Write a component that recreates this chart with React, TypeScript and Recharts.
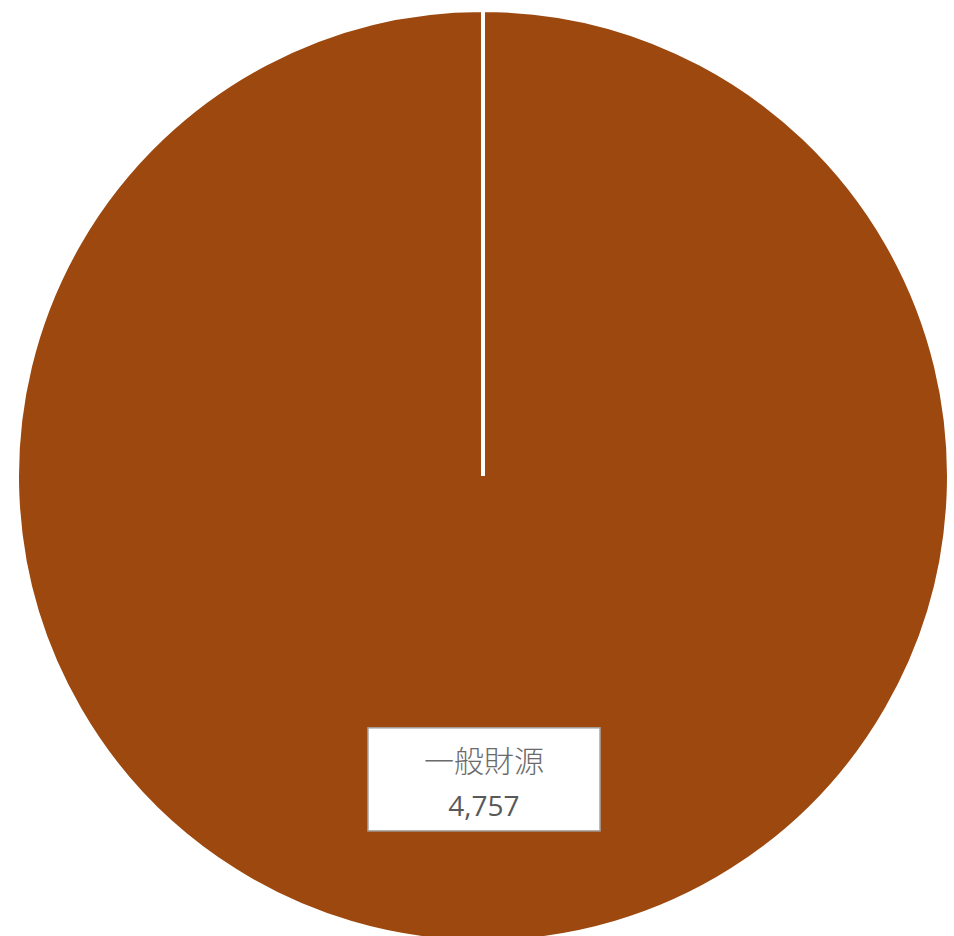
import React from "react";
import { PieChart, Pie, Cell } from "recharts";

const categories = ["一般財源"];
const values = [4757];
const colors = ["#9C480E"];

const data = categories.map((name, i) => ({ name, value: values[i] }));

const RAD = Math.PI / 180;

const renderLabel = (props: any) => {
  const { cx, cy, midAngle, outerRadius, name, value } = props;
  const r = outerRadius * 0.651;
  const x = cx + 1 + r * Math.cos(-midAngle * RAD);
  const y = cy + r * Math.sin(-midAngle * RAD);
  const w = 232;
  const h = 103;
  return (
    <g>
      <rect
        x={x - w / 2}
        y={y - h / 2}
        width={w}
        height={h}
        fill="#ffffff"
        stroke="#a6a6a6"
        strokeWidth={1.5}
      />
      <text
        x={x}
        y={y - 20}
        textAnchor="middle"
        dominantBaseline="central"
        fontFamily="'Noto Sans CJK JP', sans-serif"
        fontWeight={300}
        fontSize={30}
        fill="#6b6b6b"
      >
        {name}
      </text>
      <text
        x={x}
        y={y + 26}
        textAnchor="middle"
        dominantBaseline="central"
        fontFamily="'Open Sans', sans-serif"
        fontSize={28}
        fill="#595959"
      >
        {value.toLocaleString("en-US")}
      </text>
    </g>
  );
};

export default function App() {
  return (
    <div style={{ position: "absolute", left: 0, top: 0, width: 954, height: 936, background: "#fff" }}>
      <PieChart width={954} height={936} margin={{ top: 0, right: 0, bottom: 0, left: 0 }}>
        <Pie
          data={data}
          dataKey="value"
          nameKey="name"
          cx={483}
          cy={476}
          outerRadius={466}
          startAngle={90}
          endAngle={-270}
          stroke="#ffffff"
          strokeWidth={4}
          label={renderLabel}
          labelLine={false}
          isAnimationActive={false}
        >
          {data.map((d, i) => (
            <Cell key={d.name} fill={colors[i]} />
          ))}
        </Pie>
      </PieChart>
    </div>
  );
}
